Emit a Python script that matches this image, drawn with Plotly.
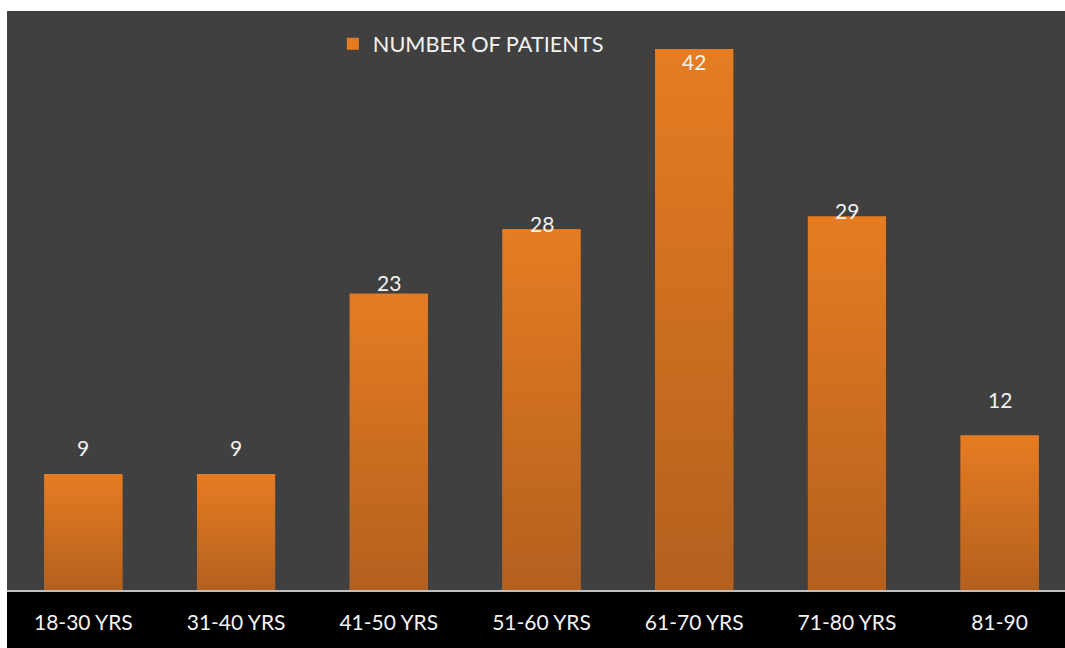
import plotly.graph_objects as go

# Patients per age group
age_groups = ["18-30 YRS", "31-40 YRS", "41-50 YRS", "51-60 YRS", "61-70 YRS", "71-80 YRS", "81-90"]
patients = [9, 9, 23, 28, 42, 29, 12]
# vertical nudge (px, upward) of each value label from the bar top
label_shift = [27, 27, 11, 6, -12, 6, 36]

BAR_WIDTH = 0.511
TOP_ORANGE = "#E67C22"
BOTTOM_ORANGE = "#B3601E"
FONT = "Lato"

idx = list(range(len(age_groups)))

fig = go.Figure()

# Base bars (carry legend entry and hover)
fig.add_trace(go.Bar(
    x=idx, y=patients, width=BAR_WIDTH,
    name="NUMBER OF PATIENTS",
    marker=dict(color=TOP_ORANGE, line=dict(width=0)),
    showlegend=True,
))

# Vertical gradient fill laid over each bar
half = BAR_WIDTH / 2
for i, v in zip(idx, patients):
    fig.add_trace(go.Scatter(
        x=[i - half, i - half, i + half, i + half, i - half],
        y=[0, v, v, 0, 0],
        mode="none", fill="toself",
        fillgradient=dict(type="vertical",
                          colorscale=[[0, BOTTOM_ORANGE], [1, TOP_ORANGE]]),
        showlegend=False, hoverinfo="skip",
    ))

# Value labels
for i, v, s in zip(idx, patients, label_shift):
    fig.add_annotation(x=i, y=v, text=str(v), showarrow=False,
                       yanchor="middle", yshift=s,
                       font=dict(family=FONT, size=21, color="#F2F2F2"))

# Black band behind the category labels
fig.add_shape(type="rect", xref="paper", yref="paper",
              x0=0, x1=1, y0=-0.2, y1=0, fillcolor="black",
              line=dict(width=0), layer="below")

fig.update_layout(
    width=1065, height=648,
    margin=dict(l=7, r=0, t=11, b=58),
    paper_bgcolor="white",
    plot_bgcolor="#404040",
    showlegend=True,
    legend=dict(x=0.308, y=0.979, xanchor="left", yanchor="top",
                orientation="h", bgcolor="rgba(0,0,0,0)",
                font=dict(family=FONT, size=21.7, color="#F2F2F2")),
    xaxis=dict(range=[-0.5, 6.428], tickvals=idx, ticktext=age_groups,
               showgrid=False, zeroline=False,
               showline=True, linecolor="#BFBFBF", linewidth=2,
               ticks="outside", ticklen=13, tickcolor="rgba(0,0,0,0)",
               tickfont=dict(family=FONT, size=21, color="#F2F2F2"),
               fixedrange=True),
    yaxis=dict(range=[0, 44.95], visible=False, showgrid=False,
               zeroline=False, fixedrange=True),
)

fig.write_html("out.html")
